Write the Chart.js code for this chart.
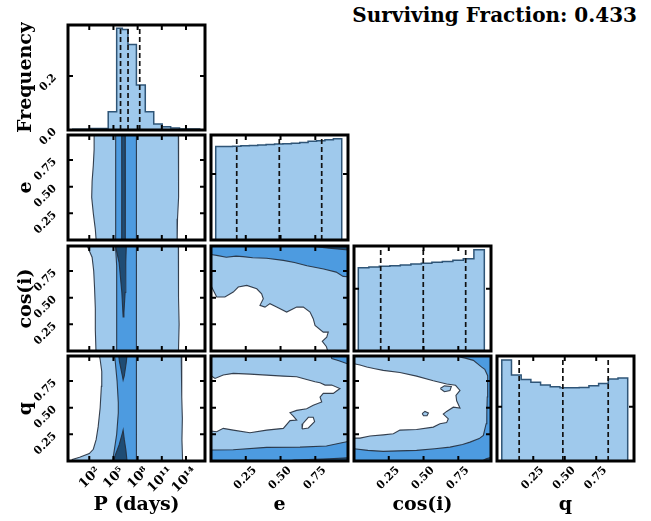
<!DOCTYPE html>
<html>
<head>
<meta charset="utf-8">
<script src="https://cdn.jsdelivr.net/npm/chart.js@4.4.0/dist/chart.umd.min.js"></script>
<style>
  html, body { margin: 0; padding: 0; background: #fff; }
  #wrap { position: relative; width: 651px; height: 521px; overflow: hidden; }
  #wrap canvas { position: absolute; }
  #title { position: absolute; right: 14px; top: 3px; font: bold 20px 'DejaVu Serif'; color: #000; white-space: nowrap; }
</style>
</head>
<body>
<div id="wrap"><div id="title">Surviving Fraction: 0.433</div></div>
<script>
// ---- data ----
// log10 P histogram (bin edges, frequency)
const pEdges = [-0.05, 2.1, 4.35, 5.4, 6.1, 6.8, 7.85, 8.95, 10.0, 11.05, 12.1, 13.2, 15.7];
const pFreq = [0.003, 0.006, 0.068, 0.377, 0.372, 0.317, 0.167, 0.068, 0.022, 0.012, 0.007, 0.004];
const pQuant = [5.88, 6.81, 8.26];

const eEdges = [0.034, 0.094, 0.155, 0.215, 0.276, 0.336, 0.396, 0.457, 0.517, 0.578, 0.638, 0.698, 0.759, 0.819, 0.88, 0.94];
const eFreq = [0.0707, 0.0707, 0.0709, 0.0712, 0.0715, 0.0719, 0.0723, 0.0726, 0.0728, 0.0732, 0.0738, 0.0746, 0.075, 0.0758, 0.0765];
const eQuant = [0.185, 0.491, 0.796];

const cosEdges = [0.031, 0.107, 0.182, 0.258, 0.333, 0.409, 0.484, 0.56, 0.635, 0.711, 0.786, 0.862, 0.937];
const cosFreq = [0.0669, 0.0674, 0.068, 0.0685, 0.0691, 0.0698, 0.0704, 0.0712, 0.0719, 0.0729, 0.0741, 0.0813];
const cosQuant = [0.192, 0.498, 0.803];

const qEdges = [0, 0.077, 0.154, 0.231, 0.308, 0.385, 0.462, 0.538, 0.615, 0.692, 0.769, 0.846, 0.923, 1.0];
const qFreq = [0.0931, 0.0793, 0.0753, 0.0726, 0.0701, 0.0685, 0.0675, 0.0675, 0.0678, 0.0694, 0.0716, 0.0756, 0.0767];
const qQuant = [0.138, 0.485, 0.845];

// axes
const pTickVals = [2, 5, 8, 11, 14];
const pTickLabels = ['10²', '10⁵', '10⁸', '10¹¹', '10¹⁴'];
const unitTicks = [0.25, 0.5, 0.75];
const freqTicks = [0.0, 0.2];
const names = ['P (days)', 'e', 'cos(i)', 'q'];

// contour regions [x, y]
const peLight = [[2.9,-0.05],[2.75,0.1],[2.5,0.25],[2.3,0.4],[2.35,0.55],[2.5,0.7],[2.6,0.85],[2.6,1.05],[13.05,1.05],[13.1,0.8],[13.05,0.6],[13.1,0.4],[12.95,0.2],[12.9,-0.05]];
const peMid = [[5.3,-0.05],[5.25,0.5],[5.3,1.05],[7.85,1.05],[7.85,-0.05]];
const peDark = [[6.0,-0.05],[6.05,0.5],[6.0,1.05],[6.45,1.05],[6.5,0.5],[6.45,-0.05]];

const pcLight = [[2.85,-0.05],[2.75,0.2],[2.75,0.4],[2.65,0.6],[2.55,0.75],[2.35,0.88],[2.0,0.94],[1.4,1.05],[13.05,1.05],[13.1,0.8],[13.05,0.5],[13.15,0.25],[13.05,-0.05]];
const pcMid = [[5.4,-0.05],[5.4,0.8],[5.2,1.05],[7.85,1.05],[7.85,-0.05]];
const pcDark = [[5.2,1.05],[5.35,0.95],[5.7,0.83],[6.04,0.55],[6.2,0.32],[6.3,0.36],[6.45,0.55],[6.53,0.83],[6.62,1.05]];

const pqLight = [[-0.7,-0.05],[-0.1,0.015],[0.8,0.035],[2.0,0.07],[2.5,0.11],[2.85,0.2],[3.1,0.32],[3.35,0.5],[3.5,0.7],[3.55,0.84],[3.35,0.95],[3.1,1.05],[13.4,1.05],[13.5,0.8],[13.45,0.6],[13.55,0.4],[13.5,0.2],[13.6,-0.05]];
const pqMid = [[4.8,-0.05],[5.1,0.1],[5.4,0.25],[5.6,0.45],[5.6,0.55],[5.45,0.75],[5.2,0.95],[5.0,1.05],[7.85,1.05],[7.85,-0.05]];
const pqDarkTop = [[5.55,1.05],[5.75,0.93],[6.1,0.8],[6.2,0.76],[6.35,0.8],[6.6,0.93],[6.75,1.05]];
const pqDarkBot = [[4.9,-0.05],[5.2,0.05],[5.7,0.15],[6.1,0.26],[6.2,0.29],[6.35,0.2],[6.55,0.1],[6.75,-0.05]];

const fullBox = [[-0.05,-0.05],[-0.05,1.05],[1.05,1.05],[1.05,-0.05]];

const ecMid = [[-0.05,1.05],[-0.05,0.915],[0.05,0.895],[0.11,0.88],[0.18,0.89],[0.23,0.885],[0.3,0.875],[0.4,0.87],[0.52,0.85],[0.6,0.83],[0.69,0.8],[0.81,0.77],[0.9,0.74],[0.95,0.7],[1.05,0.69],[1.05,1.05]];
const ecDark = [[0.6,1.05],[0.7,0.985],[0.85,0.965],[1.05,0.94],[1.05,1.05]];
const ecWhite = [[-0.05,0.631],[-0.007,0.631],[0.041,0.506],[0.1,0.506],[0.16,0.553],[0.196,0.6],[0.257,0.615],[0.329,0.584],[0.364,0.537],[0.376,0.49],[0.352,0.428],[0.388,0.412],[0.424,0.444],[0.472,0.412],[0.544,0.365],[0.616,0.412],[0.664,0.412],[0.712,0.365],[0.735,0.303],[0.748,0.24],[0.807,0.177],[0.843,0.177],[0.832,0.13],[0.8,0.09],[0.83,0.04],[0.85,-0.05],[-0.05,-0.05]];

const eqMid = [[-0.05,-0.05],[-0.05,0.102],[0.16,0.105],[0.4,0.128],[0.64,0.13],[0.83,0.14],[0.975,0.18],[1.05,0.19],[1.05,-0.05]];
const eqMidTop = [[0.85,1.05],[0.868,0.962],[0.92,0.94],[0.975,0.915],[1.05,0.9],[1.05,1.05]];
const eqDark = [[0.3,-0.05],[0.6,0.008],[0.85,0.02],[1.05,0.035],[1.05,-0.05]];
const eqWhite = [[-0.05,0.806],[-0.007,0.806],[0.029,0.775],[0.088,0.806],[0.16,0.822],[0.28,0.815],[0.4,0.806],[0.52,0.796],[0.616,0.79],[0.688,0.765],[0.748,0.743],[0.784,0.734],[0.82,0.712],[0.868,0.712],[0.927,0.68],[0.879,0.634],[0.807,0.634],[0.784,0.6],[0.796,0.553],[0.735,0.522],[0.688,0.49],[0.616,0.475],[0.568,0.452],[0.592,0.421],[0.616,0.384],[0.568,0.379],[0.52,0.306],[0.4,0.29],[0.28,0.265],[0.16,0.29],[0.088,0.306],[0.041,0.274],[-0.05,0.29]];
const eqIsland = [[0.655,0.3],[0.7,0.31],[0.745,0.37],[0.735,0.41],[0.7,0.41],[0.66,0.35]];

const cqMid = [[-0.05,-0.05],[-0.05,0.115],[0.0,0.115],[0.1,0.1],[0.21,0.09],[0.32,0.095],[0.45,0.1],[0.58,0.115],[0.69,0.13],[0.78,0.155],[0.834,0.177],[0.9,0.21],[0.93,0.24],[0.95,0.35],[0.955,0.46],[0.958,0.6],[0.96,0.71],[0.962,0.8],[0.94,0.86],[0.918,0.881],[0.858,0.944],[0.8,0.965],[0.762,0.975],[0.74,1.05],[1.05,1.05],[1.05,-0.05]];
const cqDark = [[0.85,-0.05],[0.95,0.02],[1.05,0.06],[1.05,-0.05]];
const cqWhite = [[-0.05,0.912],[0.0,0.912],[0.043,0.9],[0.092,0.881],[0.15,0.865],[0.21,0.85],[0.33,0.83],[0.45,0.796],[0.57,0.753],[0.666,0.722],[0.73,0.71],[0.762,0.662],[0.733,0.615],[0.738,0.565],[0.762,0.496],[0.714,0.505],[0.666,0.465],[0.642,0.44],[0.678,0.396],[0.666,0.36],[0.618,0.349],[0.57,0.318],[0.45,0.296],[0.33,0.29],[0.283,0.255],[0.21,0.245],[0.115,0.234],[0.043,0.215],[-0.05,0.215]];
const cqIsland1 = [[0.62,0.68],[0.65,0.705],[0.7,0.7],[0.69,0.66],[0.65,0.65]];
const cqIsland2 = [[0.49,0.445],[0.51,0.465],[0.535,0.45],[0.525,0.425],[0.5,0.425]];

// ---- look ----
const LIGHT = '#9fc9ec';
const MID = '#4d9be0';
const DARK = '#1f4c74';
const EDGE = '#2f5577';
const LINE = 'rgba(35,45,60,0.9)';

const panelLeft = [68, 211, 354, 497];
const panelTop = [25, 135, 246, 356];
const PW = 137, PH = 105;

const pRange = { min: -0.64, max: 16.36 };
const uRange = { min: 0, max: 0.985 };
const qDiagRange = { min: -0.038, max: 1.05 };

Chart.defaults.font.family = 'DejaVu Serif';

/**
 * polygon fill before the outline is drawn
 */
const polyPlugin = {
  id: 'polyFill',
  beforeDatasetDraw(chart, args) {
    const ds = chart.data.datasets[args.index];
    if (!ds.polyFill) return;
    const { ctx, chartArea: a } = chart;
    const pts = args.meta.data;
    ctx.save();
    ctx.beginPath();
    ctx.rect(a.left, a.top, a.width, a.height);
    ctx.clip();
    ctx.beginPath();
    pts.forEach((p, i) => (i ? ctx.lineTo(p.x, p.y) : ctx.moveTo(p.x, p.y)));
    ctx.closePath();
    ctx.fillStyle = ds.polyFill;
    ctx.fill();
    ctx.restore();
  }
};

/**
 * thick box + inward ticks on all sides
 */
const framePlugin = {
  id: 'frame',
  afterDatasetsDraw(chart) {
    const { ctx, chartArea: a, scales } = chart;
    ctx.save();
    ctx.strokeStyle = '#000';
    ctx.lineWidth = 2;
    const t = 5;
    scales.x.ticks.forEach(tk => {
      const px = scales.x.getPixelForValue(tk.value);
      ctx.beginPath();
      ctx.moveTo(px, a.bottom); ctx.lineTo(px, a.bottom - t);
      ctx.moveTo(px, a.top); ctx.lineTo(px, a.top + t);
      ctx.stroke();
    });
    scales.y.ticks.forEach(tk => {
      const py = scales.y.getPixelForValue(tk.value);
      ctx.beginPath();
      ctx.moveTo(a.left, py); ctx.lineTo(a.left + t, py);
      ctx.moveTo(a.right, py); ctx.lineTo(a.right - t, py);
      ctx.stroke();
    });
    ctx.lineWidth = 3;
    ctx.strokeRect(a.left, a.top, a.width, a.height);
    ctx.restore();
  }
};

function toXY(pts) {
  const out = pts.map(p => ({ x: p[0], y: p[1] }));
  out.push({ x: pts[0][0], y: pts[0][1] });
  return out;
}

function poly(pts, color, outline = true) {
  return {
    data: toXY(pts),
    polyFill: color,
    showLine: true,
    pointRadius: 0,
    borderColor: outline ? LINE : 'rgba(0,0,0,0)',
    borderWidth: outline ? 1.1 : 0,
    fill: false,
    clip: 0
  };
}

function hist(edges, vals) {
  const data = [{ x: edges[0], y: 0 }];
  vals.forEach((v, i) => data.push({ x: edges[i], y: v }));
  data.push({ x: edges[edges.length - 1], y: 0 });
  return {
    data,
    showLine: true,
    stepped: true,
    pointRadius: 0,
    borderColor: EDGE,
    borderWidth: 1.5,
    backgroundColor: LIGHT,
    fill: 'origin',
    clip: 0
  };
}

function vline(x, top) {
  return {
    data: [{ x, y: 0 }, { x, y: top }],
    showLine: true,
    pointRadius: 0,
    borderColor: '#111',
    borderWidth: 1.7,
    borderDash: [5, 3],
    fill: false,
    clip: 0
  };
}

function axis(s, show, dir, size) {
  return {
    type: 'linear',
    min: s.min,
    max: s.max,
    grid: { display: false },
    border: { display: false },
    afterBuildTicks: sc => { sc.ticks = s.ticks.map(v => ({ value: v })); },
    afterFit: sc => {
      if (dir === 'x') sc.height = size; else sc.width = size;
      sc.paddingTop = 0; sc.paddingBottom = 0; sc.paddingLeft = 0; sc.paddingRight = 0;
    },
    ticks: {
      display: show,
      autoSkip: false,
      minRotation: 45,
      maxRotation: 45,
      padding: dir === 'x' ? -5 : 5,
      labelOffset: dir === 'x' ? 9 : 0,
      color: '#000',
      font: { family: 'DejaVu Serif', weight: 'bold', size: s.fontSize || 11 },
      callback: s.label
    },
    title: {
      display: !!s.title,
      text: s.title,
      color: '#000',
      font: { family: 'DejaVu Serif', weight: 'bold', size: 19 },
      padding: dir === 'x' ? { top: 0, bottom: 1 } : { top: 12, bottom: 0 }
    }
  };
}

function panel(r, c, xs, ys, datasets) {
  const yW = c === 0 ? 65 : 0;
  const xH = r === 3 ? 56 : (r === 0 ? 14 : 0);
  const showX = r === 3;
  const cv = document.createElement('canvas');
  cv.width = PW + 6 + yW;
  cv.height = PH + 6 + xH;
  cv.style.left = (panelLeft[c] - 3 - yW) + 'px';
  cv.style.top = (panelTop[r] - 3) + 'px';
  document.getElementById('wrap').appendChild(cv);

  // first listed is drawn first
  datasets.forEach((d, i) => { d.order = datasets.length - i; });

  new Chart(cv, {
    type: 'scatter',
    data: { datasets },
    options: {
      responsive: false,
      animation: false,
      devicePixelRatio: 1,
      events: [],
      layout: { padding: 3 },
      plugins: { legend: { display: false }, tooltip: { enabled: false } },
      scales: {
        x: axis(showX ? xs : { ...xs, title: '' }, showX, 'x', xH),
        y: axis(c === 0 ? ys : { ...ys, title: '' }, c === 0, 'y', yW)
      }
    },
    plugins: [polyPlugin, framePlugin]
  });
}

const fmt2 = v => v.toFixed(2);
const pAxis = { ...pRange, ticks: pTickVals, label: v => pTickLabels[pTickVals.indexOf(v)], title: names[0], fontSize: 13 };
const eAxis = { ...uRange, ticks: unitTicks, label: fmt2, title: names[1] };
const cAxis = { ...uRange, ticks: unitTicks, label: fmt2, title: names[2] };
const qAxis = { ...uRange, ticks: unitTicks, label: fmt2, title: names[3] };
const qDiagAxis = { ...qDiagRange, ticks: unitTicks, label: fmt2, title: names[3] };

// diagonal
panel(0, 0, pAxis, { min: 0, max: 0.389, ticks: freqTicks, label: v => v.toFixed(1), title: 'Frequency' },
  [hist(pEdges, pFreq), ...pQuant.map(x => vline(x, 1))]);
panel(1, 1, eAxis, { min: 0, max: 0.0794, ticks: [0.05] },
  [hist(eEdges, eFreq), ...eQuant.map(x => vline(x, 1))]);
panel(2, 2, cAxis, { min: 0, max: 0.0843, ticks: [0.05] },
  [hist(cosEdges, cosFreq), ...cosQuant.map(x => vline(x, 1))]);
panel(3, 3, qDiagAxis, { min: 0, max: 0.0969, ticks: [0.05] },
  [hist(qEdges, qFreq), ...qQuant.map(x => vline(x, 1))]);

// P column
panel(1, 0, pAxis, eAxis, [poly(peLight, LIGHT), poly(peMid, MID), poly(peDark, DARK)]);
panel(2, 0, pAxis, cAxis, [poly(pcLight, LIGHT), poly(pcMid, MID), poly(pcDark, DARK)]);
panel(3, 0, pAxis, qAxis, [poly(pqLight, LIGHT), poly(pqMid, MID), poly(pqDarkTop, DARK), poly(pqDarkBot, DARK)]);

// e column
panel(2, 1, eAxis, cAxis, [poly(fullBox, LIGHT, false), poly(ecWhite, '#fff'), poly(ecMid, MID), poly(ecDark, DARK)]);
panel(3, 1, eAxis, qAxis, [poly(fullBox, LIGHT, false), poly(eqWhite, '#fff'), poly(eqIsland, '#fff'), poly(eqMid, MID), poly(eqMidTop, MID), poly(eqDark, DARK)]);

// cos(i) column
panel(3, 2, cAxis, qAxis, [poly(fullBox, LIGHT, false), poly(cqWhite, '#fff'), poly(cqIsland1, LIGHT), poly(cqIsland2, LIGHT), poly(cqMid, MID), poly(cqDark, DARK)]);
</script>
</body>
</html>
